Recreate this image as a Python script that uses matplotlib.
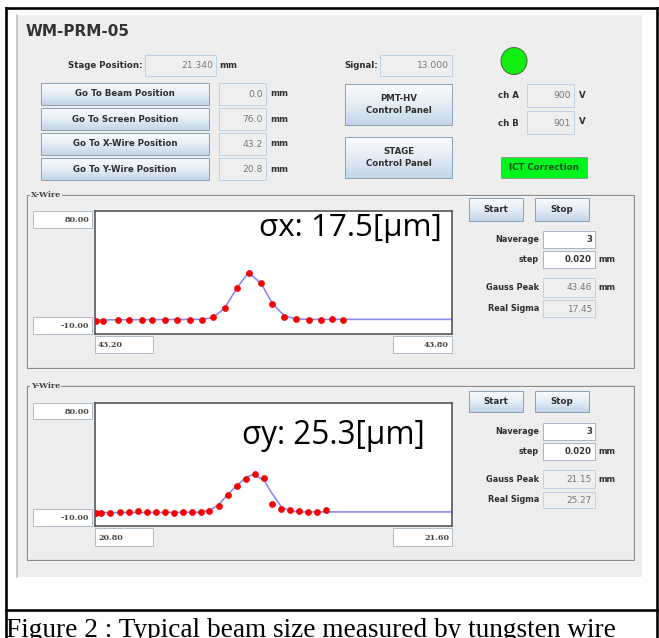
import numpy as np
import matplotlib
matplotlib.use("Agg")
import matplotlib.pyplot as plt
from matplotlib.patches import Rectangle, Ellipse
from matplotlib.colors import LinearSegmentedColormap

# ---------------- data ----------------
xw_pos = [43.202, 43.214, 43.238, 43.257, 43.279, 43.296, 43.318, 43.338, 43.359, 43.379,
          43.398, 43.418, 43.438, 43.458, 43.479, 43.498, 43.518, 43.538, 43.559, 43.580,
          43.599, 43.617]
xw_sig = [-0.2, -0.5, 0.2, 0.2, 0.2, 0.2, 0.2, 0.2, 0.2, 0.2,
          2.7, 8.8, 23.4, 34.9, 27.1, 12.0, 2.7, 1.0, 0.5, 0.5,
          1.2, 0.2]
xw_fit_x = [43.20, 43.379, 43.398, 43.418, 43.438, 43.458, 43.479, 43.498, 43.518, 43.538, 43.56, 43.80]
xw_fit_y = [0.3, 0.7, 2.0, 8.8, 23.4, 34.9, 27.1, 12.4, 3.4, 1.0, 0.7, 0.7]

yw_pos = [20.802, 20.813, 20.834, 20.856, 20.876, 20.896, 20.916, 20.937, 20.957, 20.977,
          20.997, 21.017, 21.037, 21.056, 21.077, 21.097, 21.118, 21.138, 21.158, 21.179,
          21.197, 21.217, 21.237, 21.258, 21.278, 21.298, 21.318]
yw_sig = [-0.5, -0.5, -0.2, 0.0, 0.3, 1.0, 0.3, 0.0, 0.0, -0.5,
          0.0, 0.5, 0.5, 1.0, 4.9, 13.0, 19.5, 24.4, 28.3, 25.1,
          5.9, 2.5, 1.5, 0.8, 0.3, 0.0, 1.5]
yw_fit_x = [20.80, 21.03, 21.057, 21.077, 21.097, 21.118, 21.138, 21.155, 21.179, 21.197,
            21.217, 21.237, 21.26, 21.60]
yw_fit_y = [-0.2, 0.0, 1.5, 5.5, 13.0, 19.5, 25.5, 27.8, 23.4, 13.7, 4.4, 1.0, 0.3, 0.3]

x_range_x = (43.20, 43.80)
x_range_y = (20.80, 21.60)
y_range = (-10.0, 80.0)

title = "WM-PRM-05"
goto_labels = ["Go To Beam Position", "Go To Screen Position", "Go To X-Wire Position", "Go To Y-Wire Position"]
goto_values = ["0.0", "76.0", "43.2", "20.8"]
stage_pos = "21.340"
signal_val = "13.000"
chA, chB = "900", "901"
x_info = {"nav": "3", "step": "0.020", "peak": "43.46", "sigma": "17.45", "label": "σx: 17.5[μm]"}
y_info = {"nav": "3", "step": "0.020", "peak": "21.15", "sigma": "25.27", "label": "σy: 25.3[μm]"}
caption = "Figure 2 : Typical beam size measured by tungsten wire"

# ---------------- figure ----------------
W, H = 659, 638
fig = plt.figure(figsize=(W / 100, H / 100), dpi=100)
fig.patch.set_facecolor("white")
ov = fig.add_axes([0, 0, 1, 1])
ov.set_xlim(0, W)
ov.set_ylim(H, 0)
ov.axis("off")

PX = 0.72  # points per pixel
PANEL = "#eeeeee"
LBL = "#2e2e2e"
VAL = "#777777"
FS_L = 6.2

btn_cmap = LinearSegmentedColormap.from_list("btn", ["#fafcfe", "#e4edf6", "#c3d5e8"])


def rect(x0, y0, x1, y1, fc, ec="none", lw=1.0, z=1):
    ov.add_patch(Rectangle((x0, y0), x1 - x0, y1 - y0, facecolor=fc, edgecolor=ec,
                           lw=lw * PX, zorder=z))


def label(x, y, s, ha="right", fs=FS_L, color=LBL, bold=True, z=5, **kw):
    ov.text(x, y, s, ha=ha, va="center", fontsize=fs, color=color,
            fontweight="bold" if bold else "normal", zorder=z, family="DejaVu Sans", **kw)


def button(x0, y0, x1, y1, s, fs=FS_L):
    grad = np.linspace(0, 1, 64).reshape(-1, 1)
    ov.imshow(grad, extent=(x0, x1, y1, y0), aspect="auto", cmap=btn_cmap, zorder=2,
              interpolation="bilinear")
    rect(x0, y0, x1, y1, "none", "#8ea2b7", 1.0, z=3)
    ov.text((x0 + x1) / 2, (y0 + y1) / 2, s, ha="center", va="center", fontsize=fs,
            color=LBL, fontweight="bold", zorder=5, linespacing=1.35, family="DejaVu Sans")


def field(x0, y0, x1, y1, s, white=False, bold=False, fs=6.6, color=VAL, ec="#c0d2e4"):
    rect(x0, y0, x1, y1, "white" if white else "#efefef", ec, 1.0, z=2)
    ov.text(x1 - 3, (y0 + y1) / 2 + 0.5, s, ha="right", va="center", fontsize=fs, color=color,
            fontweight="bold" if bold else "normal", zorder=5, family="DejaVu Sans")


# outer frame and caption
for (xa, ya, xb, yb) in [(5.5, 8, 5.5, H), (656.5, 8, 656.5, H), (5.5, 8, 656.5, 8),
                         (5.5, 609.5, 656.5, 609.5)]:
    ov.plot([xa, xb], [ya, yb], color="black", lw=2.6 * PX, zorder=10, solid_capstyle="projecting")

# panel
rect(16, 15, 642, 577, PANEL, z=0.5)
ov.plot([16.5, 16.5], [15, 577], color="#b5bec8", lw=1.5 * PX, zorder=1)

ov.text(26, 31, title, ha="left", va="center", fontsize=11, fontweight="bold", color="#333333",
        family="DejaVu Sans", zorder=5)

# stage position
label(142, 66, "Stage Position:")
field(145, 55, 216, 76, stage_pos)
label(219, 65, "mm", ha="left")

rows = [(83, 105), (108, 130), (133, 155), (158, 180)]
for (y0, y1), lab, v in zip(rows, goto_labels, goto_values):
    button(41, y0, 209, y1, lab)
    field(219, y0, 266, y1, v)
    label(270, (y0 + y1) / 2, "mm", ha="left")

# signal & control panels
label(378, 66, "Signal:")
field(380, 55, 452, 76, signal_val)
button(345, 84, 452, 125, "PMT-HV\nControl Panel")
button(345, 137, 452, 178, "STAGE\nControl Panel")

ov.add_patch(Ellipse((514, 61), 26, 27, facecolor="#11ee11", edgecolor="#4a6a4a",
                     lw=1.0 * PX, zorder=4))
label(519, 96, "ch A")
field(527, 84, 574, 107, chA)
label(579, 95, "V", ha="left")
label(519, 124, "ch B")
field(527, 111, 574, 134, chB)
label(579, 122, "V", ha="left")

rect(501, 157, 587, 178, "#00f51c", "#8a9a8a", 1.0, z=3)
ov.text(544, 167.5, "ICT Correction", ha="center", va="center", fontsize=FS_L,
        fontweight="bold", color="#1f4f1f", zorder=5, family="DejaVu Sans")


def fit_width(txt, target, renderer):
    w = txt.get_window_extent(renderer).width
    txt.set_fontsize(txt.get_fontsize() * target / w)


renderer = fig.canvas.get_renderer()


def wire_section(top, name, plot_box, lab_boxes, xr, pos, sig, fx, fy, info, right_rows, sig_txt):
    gx0, gy0, gx1, gy1 = 27, top, 634, top + (173 if name == "X-Wire" else 174)
    rect(gx0 + 1, gy0 + 1, gx1 + 1, gy1 + 1, "none", "white", 1.0, z=1.5)
    rect(gx0, gy0, gx1, gy1, "none", "#8a8a8a", 1.2, z=1.6)
    ov.text(31, gy0, name, ha="left", va="center", fontsize=5.8, fontweight="bold",
            color="#444444", zorder=5, family="DejaVu Serif",
            bbox=dict(facecolor=PANEL, edgecolor="none", pad=0.6))

    # scale boxes
    (b80, b10, bl, br) = lab_boxes
    scale_txt = [f"{y_range[1]:.2f}", f"{y_range[0]:.2f}", f"{xr[0]:.2f}", f"{xr[1]:.2f}"]
    for (bx0, by0, bx1, by1), s, align in zip([b80, b10, bl, br], scale_txt,
                                               ["r", "r", "l", "r"]):
        rect(bx0, by0, bx1, by1, "white", "#b0bcc8", 1.0, z=2)
        if align == "r":
            ov.text(bx1 - 3, (by0 + by1) / 2 + 0.5, s, ha="right", va="center", fontsize=5.8,
                    fontweight="bold", color="#444444", zorder=5, family="DejaVu Serif")
        else:
            ov.text(bx0 + 3, (by0 + by1) / 2 + 0.5, s, ha="left", va="center", fontsize=5.8,
                    fontweight="bold", color="#444444", zorder=5, family="DejaVu Serif")

    # plot
    x0, y0, x1, y1 = plot_box
    ax = fig.add_axes([x0 / W, 1 - y1 / H, (x1 - x0) / W, (y1 - y0) / H])
    ax.set_facecolor("white")
    ax.plot(fx, fy, color="#8787f3", lw=1.6 * PX, zorder=2)
    ax.plot(pos, sig, linestyle="none", marker="o", ms=4.4, mfc="#ff0000", mec="#e00000",
            mew=0.4, zorder=3)
    ax.set_xlim(*xr)
    ax.set_ylim(*y_range)
    ax.set_xticks([])
    ax.set_yticks([])
    for sp in ax.spines.values():
        sp.set_color("#505050")
        sp.set_linewidth(1.6 * PX)
    tx0, tx1, tyc = sig_txt
    t = ax.text((tx0 - x0) / (x1 - x0), 1 - (tyc - y0) / (y1 - y0), info["label"],
                transform=ax.transAxes, ha="left", va="center", fontsize=23,
                family="Open Sans", color="black", zorder=5)
    fit_width(t, tx1 - tx0, renderer)

    # right controls
    (sb, nav_y, step_y, peak_y, sigma_y) = right_rows
    button(469, sb[0], 523, sb[1], "Start")
    button(535, sb[0], 589, sb[1], "Stop")
    label(539, (nav_y[0] + nav_y[1]) / 2, "Naverage", fs=5.9)
    field(543, nav_y[0], 595, nav_y[1], info["nav"], white=True, bold=True, fs=6.2,
          color="#333333", ec="#a9b7c6")
    label(539, (step_y[0] + step_y[1]) / 2, "step", fs=5.9)
    field(543, step_y[0], 595, step_y[1], info["step"], white=True, bold=True, fs=6.2,
          color="#333333", ec="#a9b7c6")
    label(598, (step_y[0] + step_y[1]) / 2, "mm", ha="left", fs=5.9)
    label(539, (peak_y[0] + peak_y[1]) / 2, "Gauss Peak", fs=5.9)
    field(543, peak_y[0], 595, peak_y[1], info["peak"], fs=6.4)
    label(598, (peak_y[0] + peak_y[1]) / 2, "mm", ha="left", fs=5.9)
    label(539, (sigma_y[0] + sigma_y[1]) / 2, "Real Sigma", fs=5.9)
    field(543, sigma_y[0], 595, sigma_y[1], info["sigma"], fs=6.4)


wire_section(195, "X-Wire", (95, 211, 452, 334),
             [(33, 211, 92, 228), (33, 317, 92, 334), (95, 336, 153, 353), (393, 336, 452, 353)],
             x_range_x, xw_pos, xw_sig, xw_fit_x, xw_fit_y, x_info,
             [(198, 221), (231, 248), (251, 268), (278, 297), (300, 317)],
             (259, 443, 228))

wire_section(386, "Y-Wire", (95, 403, 452, 526),
             [(33, 403, 92, 419), (33, 509, 92, 526), (95, 528, 153, 546), (393, 528, 452, 546)],
             x_range_y, yw_pos, yw_sig, yw_fit_x, yw_fit_y, y_info,
             [(391, 412), (423, 440), (443, 460), (470, 488), (492, 508)],
             (242, 426, 435))

cap = ov.text(6, 637, caption, ha="left", va="baseline", fontsize=21,
              family="Liberation Serif", color="black", zorder=11)
fit_width(cap, 607, renderer)

ov.set_xlim(0, W)
ov.set_ylim(H, 0)
fig.savefig("out.png", dpi=100, facecolor="white")
